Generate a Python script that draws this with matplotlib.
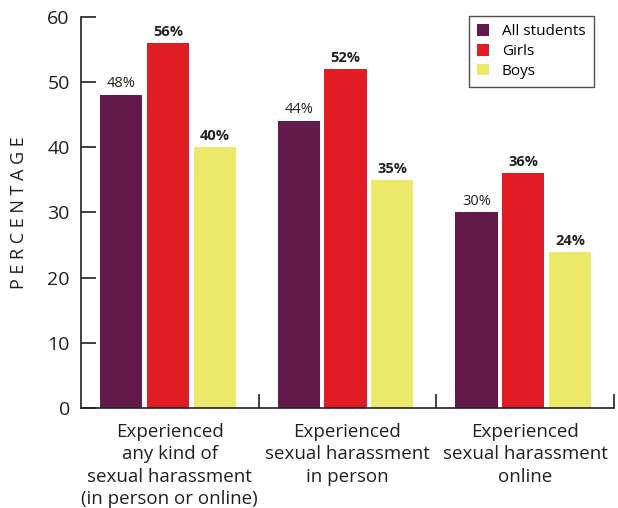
import matplotlib
matplotlib.use("Agg")
import matplotlib.pyplot as plt
import numpy as np

categories = ["Experienced\nany kind of\nsexual harassment\n(in person or online)",
              "Experienced\nsexual harassment\nin person",
              "Experienced\nsexual harassment\nonline"]
series_names = ["All students", "Girls", "Boys"]
all_students = [48, 44, 30]
girls = [56, 52, 36]
boys = [40, 35, 24]
yticks = [0, 10, 20, 30, 40, 50, 60]

colors = ["#611a4a", "#e21c24", "#ece96a"]
plt.rcParams['font.family'] = ['Open Sans', 'DejaVu Sans']

fig = plt.figure(figsize=(6.18, 5.08), dpi=100)
ax = fig.add_axes([0.131, 0.197, 0.8625, 0.7695])

x = np.arange(len(categories))
w = 0.237
step = 0.263
data = [all_students, girls, boys]
for i, (vals, c, name) in enumerate(zip(data, colors, series_names)):
    xs = x + (i - 1) * step - 0.011
    ax.bar(xs, vals, width=w, color=c, label=name, zorder=2)
    for xx, v in zip(xs, vals):
        ax.text(xx, v + 0.6, f"{v}%", ha="center", va="bottom", fontsize=10.5,
                fontweight="normal" if i == 0 else "bold", color="#222222")

ax.set_xlim(-0.5, 2.5)
ax.set_ylim(0, 60)
ax.set_yticks(yticks)
ax.set_yticklabels([str(t) for t in yticks], fontsize=14, color="#231f20")
ax.tick_params(axis="y", direction="in", length=11, width=1.2, pad=8, color="#231f20")
ax.set_xticks([0.5, 1.5, 2.5], minor=False)
ax.set_xticklabels(["", "", ""])
ax.tick_params(axis="x", direction="in", length=10, width=1.2, color="#231f20")
ax.set_xticks(x, minor=True)
ax.set_xticklabels(categories, minor=True, fontsize=13.5, color="#231f20", linespacing=1.3)
ax.tick_params(axis="x", which="minor", length=0, pad=11)

for s in ["top", "right"]:
    ax.spines[s].set_visible(False)
for s in ["left", "bottom"]:
    ax.spines[s].set_linewidth(1.2)
    ax.spines[s].set_color("#231f20")

ax.set_ylabel("P E R C E N T A G E", fontsize=13, color="#231f20", labelpad=14)

leg = ax.legend(loc="upper right", bbox_to_anchor=(0.962, 1.003), borderaxespad=0,
                frameon=True, fancybox=False,
                fontsize=11, handlelength=0.8, handleheight=0.8, handletextpad=0.8,
                borderpad=0.55, labelspacing=0.3, edgecolor="#231f20")
leg.get_frame().set_linewidth(1.0)

fig.savefig("out.png", dpi=100)
